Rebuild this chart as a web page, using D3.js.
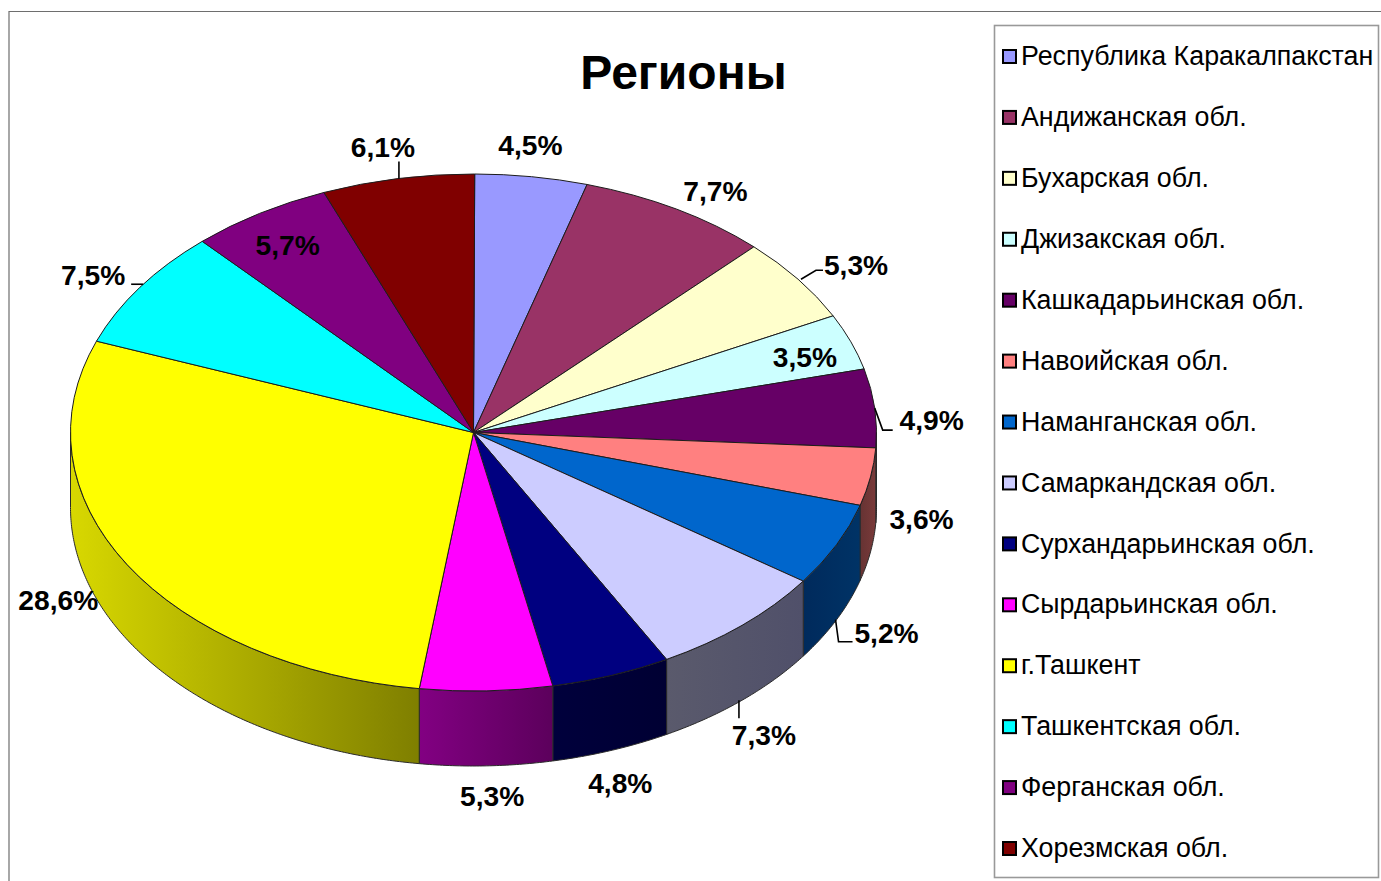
<!DOCTYPE html>
<html><head><meta charset="utf-8">
<script src="https://cdn.jsdelivr.net/npm/d3@7/dist/d3.min.js"></script>
<style>html,body{margin:0;padding:0;background:#fff}svg{display:block}text{font-family:"Liberation Sans",Arial,sans-serif}</style>
</head><body><svg id="c" width="1381" height="881"></svg>
<script>
const titleText = "Регионы";
const categories = ["Республика Каракалпакстан","Андижанская обл.","Бухарская обл.","Джизакская обл.","Кашкадарьинская обл.","Навоийская обл.","Наманганская обл.","Самаркандская обл.","Сурхандарьинская обл.","Сырдарьинская обл.","г.Ташкент","Ташкентская обл.","Ферганская обл.","Хорезмская обл."];
const shares = [4.5,7.7,5.3,3.5,4.9,3.6,5.2,7.3,4.8,5.3,28.6,7.5,5.7,6.1];
const topColors = ["#9999ff","#993366","#ffffcc","#ccffff","#660066","#ff8080","#0066cc","#ccccff","#000080","#ff00ff","#ffff00","#00ffff","#800080","#800000"];
const sideStart = ["#9999ff","#993366","#ffffcc","#ccffff","#330033","#663333","#002a5c","#5a5a6c","#00003c","#820082","#d8d800","#00ffff","#800080","#800000"];
const sideEnd   = ["#9999ff","#993366","#ffffcc","#ccffff","#330033","#7a3a3a","#003366","#50506a","#000033","#5c005c","#7f7f00","#00ffff","#800080","#800000"];
// label placement relative to each slice's rim point
const labelOffsets = [[-1,-32],[39,-18],[58,-14],[-46,15],[57,12],[51,-33],[50,13],[22,35],[9,32],[6,30],[-69,-40],[-47,-12],[28,31],[-15,-32]];
const leaderPaths = [null,null,[[3,0],[18,-9],[25,-9]],null,[[0,0],[8,22],[18,22]],null,[[-1,0],[2,22],[16,22]],[[-3,0],[-3,18]],null,null,null,[[3,-3],[0,-3],[-9,-3]],null,[[1,0],[1,-17]]];

const cx=473.5, cy=432.5, rx=403, ry=258.5, depth=75, tilt=0.003;
const svg=d3.select("#c");
const defs=svg.append("defs");

// frame
svg.append("path").attr("d",d3.line()([[9,881],[9,11.5],[1381,11.5]])).attr("fill","none").attr("stroke","#6e6e6e").attr("stroke-width",1.2);
svg.append("rect").attr("x",994.5).attr("y",25.5).attr("width",384).attr("height",852).attr("fill","#fff").attr("stroke","#999").attr("stroke-width",1.6);

const PI=Math.PI;
const pie=d3.pie().sort(null).value(d=>d).startAngle(tilt).endAngle(2*PI+tilt)(shares);
const X=t=>cx+rx*Math.sin(t), Y=t=>cy-ry*Math.cos(t);
const side=d3.area().x(X).y0(Y).y1(t=>Y(t)+depth);

// side walls: only the front half of the rim is visible
pie.forEach((p,i)=>{
  const a=Math.max(p.startAngle,PI/2), b=Math.min(p.endAngle,3*PI/2);
  if(a>=b) return;
  const x0=X(a), x1=X(b);
  const g=defs.append("linearGradient").attr("id","s"+i).attr("gradientUnits","userSpaceOnUse")
    .attr("x1",Math.min(x0,x1)).attr("x2",Math.max(x0,x1)).attr("y1",0).attr("y2",0);
  g.append("stop").attr("offset",0).attr("stop-color",sideStart[i]);
  g.append("stop").attr("offset",1).attr("stop-color",sideEnd[i]);
  const n=Math.max(4,Math.ceil((b-a)*120));
  const ts=d3.range(n+1).map(k=>a+(b-a)*k/n);
  svg.append("path").attr("d",side(ts)+"Z").attr("fill",`url(#s${i})`).attr("stroke","#2a2a2a").attr("stroke-width",1);
});

// top faces
const arc=d3.arc().innerRadius(0).outerRadius(rx);
svg.append("g").attr("transform",`translate(${cx},${cy}) scale(1,${ry/rx})`)
  .selectAll("path").data(pie).join("path").attr("d",arc)
  .attr("fill",(d,i)=>topColors[i]).attr("stroke","#1c1c1c").attr("stroke-width",1)
  .attr("vector-effect","non-scaling-stroke");

// labels and leaders
const anchor=p=>{const m=(p.startAngle+p.endAngle)/2;const front=m>PI/2&&m<3*PI/2;return [X(m),Y(m)+(front?depth:0)];};
pie.forEach((p,i)=>{
  const [ax,ay]=anchor(p);
  if(leaderPaths[i]) svg.append("path").attr("d",d3.line()(leaderPaths[i].map(q=>[ax+q[0],ay+q[1]])))
    .attr("fill","none").attr("stroke","#000").attr("stroke-width",1.6);
  svg.append("text").attr("x",ax+labelOffsets[i][0]).attr("y",ay+labelOffsets[i][1]).attr("dy",".36em")
    .attr("text-anchor","middle").attr("font-weight","bold").attr("font-size",28.2).attr("fill","#000")
    .text(shares[i].toFixed(1).replace(".",",")+"%");
});

// title
svg.append("text").attr("x",683.5).attr("y",88.5).attr("text-anchor","middle").attr("font-weight","bold").attr("font-size",48).text(titleText);

// legend
const ly=d3.scalePoint().domain(categories).range([56,848]);
const li=svg.append("g").selectAll("g").data(categories).join("g").attr("transform",d=>`translate(0,${ly(d)})`);
li.append("rect").attr("x",1003).attr("y",-6).attr("width",13).attr("height",13)
  .attr("fill",(d,i)=>topColors[i]).attr("stroke","#000").attr("stroke-width",2);
li.append("text").attr("x",1021).attr("y",-0.5).attr("dy",".36em").attr("font-size",26.8).attr("fill","#000").text(d=>d);
</script></body></html>
